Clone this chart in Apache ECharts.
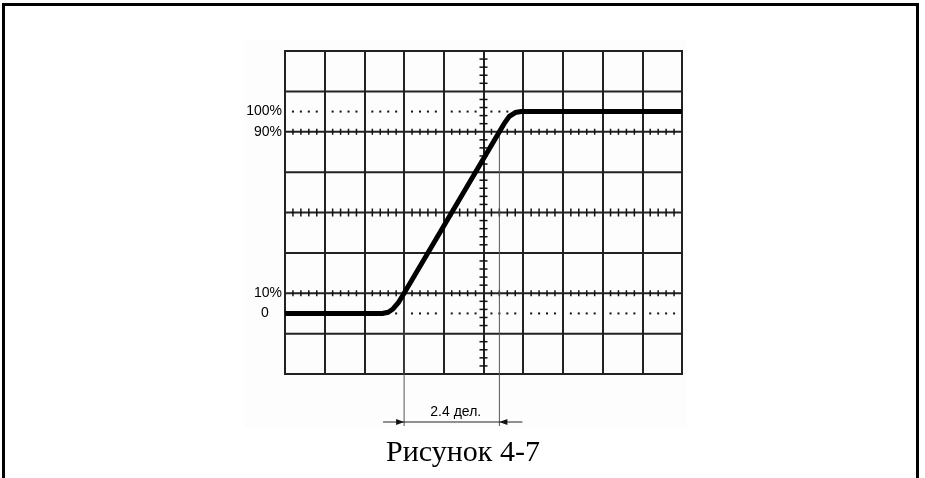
<!DOCTYPE html>
<html>
<head>
<meta charset="utf-8">
<title>Рисунок 4-7</title>
<script src="https://cdn.jsdelivr.net/npm/echarts@6.0.0/dist/echarts.min.js"></script>
<style>
  html, body { margin: 0; padding: 0; background: #fff; }
  #chart { width: 925px; height: 478px; }
</style>
</head>
<body>
<div id="chart"></div>
<script>
// x in screen divisions, y in percent of the step amplitude
var yGridLines = [-30, -10, 10, 30, 50, 70, 90, 110, 130];
var levelValues = [100, 90, 10, 0];
var levelLabels = ['100%', '90%', '10%', '0'];
var dottedLevels = [0, 100];
var tickedLevels = [10, 90];

// the trace
var traceX = [0, 2.45, 2.6, 2.72, 2.85, 3.0, 5.4, 5.52, 5.65, 5.8, 5.95, 10];
var traceY = [0, 0, 0.6, 2.2, 5.2, 10, 90, 94, 97.6, 99.5, 100, 100];

var riseStart = 3.0;   // 10% crossing
var riseEnd = 5.4;     // 90% crossing
var riseLabel = '2.4 дел.';
var caption = 'Рисунок 4-7';

var INK = '#111';

// minor graduations: 5 per division
var minorX = [];
for (var i = 1; i < 50; i++) { if (i % 5) minorX.push(i / 5); }
var minorY = [];
for (var k = 1; k < 40; k++) { if (k % 5) minorY.push(-30 + k * 4); }

// [x, y, half length, kind]  kind 0 = horizontal tick, 1 = vertical tick, 2 = dot
var ticks = [];
minorY.forEach(function (y) { ticks.push([5, y, 4, 0]); });
minorX.forEach(function (x) { ticks.push([x, 50, 4, 1]); });
tickedLevels.forEach(function (lv) {
    minorX.forEach(function (x) { ticks.push([x, lv, 3, 1]); });
});
dottedLevels.forEach(function (lv) {
    minorX.forEach(function (x) { ticks.push([x, lv, 1, 2]); });
});

var chart = echarts.init(document.getElementById('chart'), null, { renderer: 'canvas' });

var option = {
    animation: false,
    backgroundColor: '#fff',
    grid: {
        left: 285, top: 51, right: 243, bottom: 104,
        show: true, borderColor: '#222', borderWidth: 2,
        backgroundColor: 'transparent'
    },
    xAxis: {
        type: 'value', min: 0, max: 10, interval: 1,
        axisLine: { show: false }, axisTick: { show: false }, axisLabel: { show: false },
        splitLine: { show: true, lineStyle: { color: '#222', width: 2 } }
    },
    yAxis: {
        type: 'value', min: -30, max: 130,
        axisLine: { show: false }, axisTick: { show: false }, axisLabel: { show: false },
        splitLine: { show: false }
    },
    graphic: [
        {
            type: 'rect', z: -10, silent: true,
            shape: { x: 244, y: 40, width: 443, height: 387 },
            style: { fill: '#fdfdfd' }
        },
        {
            type: 'rect', z: 100, silent: true,
            shape: { x: 3.5, y: 4.5, width: 914, height: 520 },
            style: { fill: 'none', stroke: '#000', lineWidth: 3 }
        },
        {
            type: 'text', z: 100, silent: true, x: 463, y: 453,
            style: {
                text: caption, fill: '#000', align: 'center', verticalAlign: 'middle',
                font: '30px "Liberation Serif", "Times New Roman", serif'
            }
        }
    ],
    series: [
        {
            // horizontal graticule lines
            type: 'custom', silent: true, z: 1, clip: false,
            data: yGridLines.map(function (y) { return [0, y]; }),
            renderItem: function (params, api) {
                var a = api.coord([0, api.value(1)]);
                var b = api.coord([10, api.value(1)]);
                return {
                    type: 'line',
                    shape: { x1: a[0], y1: a[1], x2: b[0], y2: b[1] },
                    style: { stroke: '#222', lineWidth: 2 }
                };
            }
        },
        {
            // minor graduations and dotted levels
            type: 'custom', silent: true, z: 2, clip: false,
            data: ticks,
            renderItem: function (params, api) {
                var p = api.coord([api.value(0), api.value(1)]);
                var len = api.value(2), kind = api.value(3);
                if (kind === 2) {
                    return {
                        type: 'rect',
                        shape: { x: p[0] - 1, y: p[1] - 1, width: 2, height: 2 },
                        style: { fill: INK }
                    };
                }
                var shape = kind === 0
                    ? { x1: p[0] - len, y1: p[1], x2: p[0] + len, y2: p[1] }
                    : { x1: p[0], y1: p[1] - len, x2: p[0], y2: p[1] + len };
                return { type: 'line', shape: shape, style: { stroke: INK, lineWidth: 1.5 } };
            }
        },
        {
            // level labels on the left
            type: 'custom', silent: true, z: 3, clip: false,
            data: levelValues.map(function (v, i) { return [0, v, i]; }),
            renderItem: function (params, api) {
                var p = api.coord([0, api.value(1)]);
                var txt = levelLabels[api.value(2)];
                var isZero = txt === '0';
                return {
                    type: 'text',
                    x: isZero ? p[0] - 20 : p[0] - 3,
                    y: p[1],
                    style: {
                        text: txt, fill: '#000',
                        align: isZero ? 'center' : 'right', verticalAlign: 'middle',
                        font: '14px "Liberation Sans", Arial, sans-serif'
                    }
                };
            }
        },
        {
            // rise time dimension
            type: 'custom', silent: true, z: 4, clip: false,
            data: [[riseStart, riseEnd]],
            encode: { x: [0, 1] },
            renderItem: function (params, api) {
                var a = api.coord([api.value(0), 10]);
                var b = api.coord([api.value(1), 90]);
                var gb = api.coord([0, -30])[1];
                var yEnd = gb + 52, yArr = gb + 48;
                var st = { stroke: '#555', lineWidth: 1 };
                return {
                    type: 'group',
                    children: [
                        { type: 'line', shape: { x1: a[0], y1: a[1], x2: a[0], y2: yEnd }, style: st },
                        { type: 'line', shape: { x1: b[0], y1: b[1], x2: b[0], y2: yEnd }, style: st },
                        { type: 'line', shape: { x1: a[0] - 21, y1: yArr, x2: b[0] + 23, y2: yArr }, style: { stroke: '#222', lineWidth: 1 } },
                        { type: 'polygon', shape: { points: [[a[0], yArr], [a[0] - 8, yArr - 3], [a[0] - 8, yArr + 3]] }, style: { fill: '#111' } },
                        { type: 'polygon', shape: { points: [[b[0], yArr], [b[0] + 8, yArr - 3], [b[0] + 8, yArr + 3]] }, style: { fill: '#111' } },
                        {
                            type: 'text', x: (a[0] + b[0]) / 2 + 4, y: yArr - 10,
                            style: {
                                text: riseLabel, fill: '#000', align: 'center', verticalAlign: 'middle',
                                font: '14px "Liberation Sans", Arial, sans-serif'
                            }
                        }
                    ]
                };
            }
        },
        {
            type: 'line', silent: true, z: 10,
            data: traceX.map(function (x, i) { return [x, traceY[i]]; }),
            showSymbol: false, symbol: 'none',
            smooth: false,
            lineStyle: { color: '#000', width: 5, cap: 'butt', join: 'round' }
        }
    ]
};

option && chart.setOption(option);
</script>
</body>
</html>
